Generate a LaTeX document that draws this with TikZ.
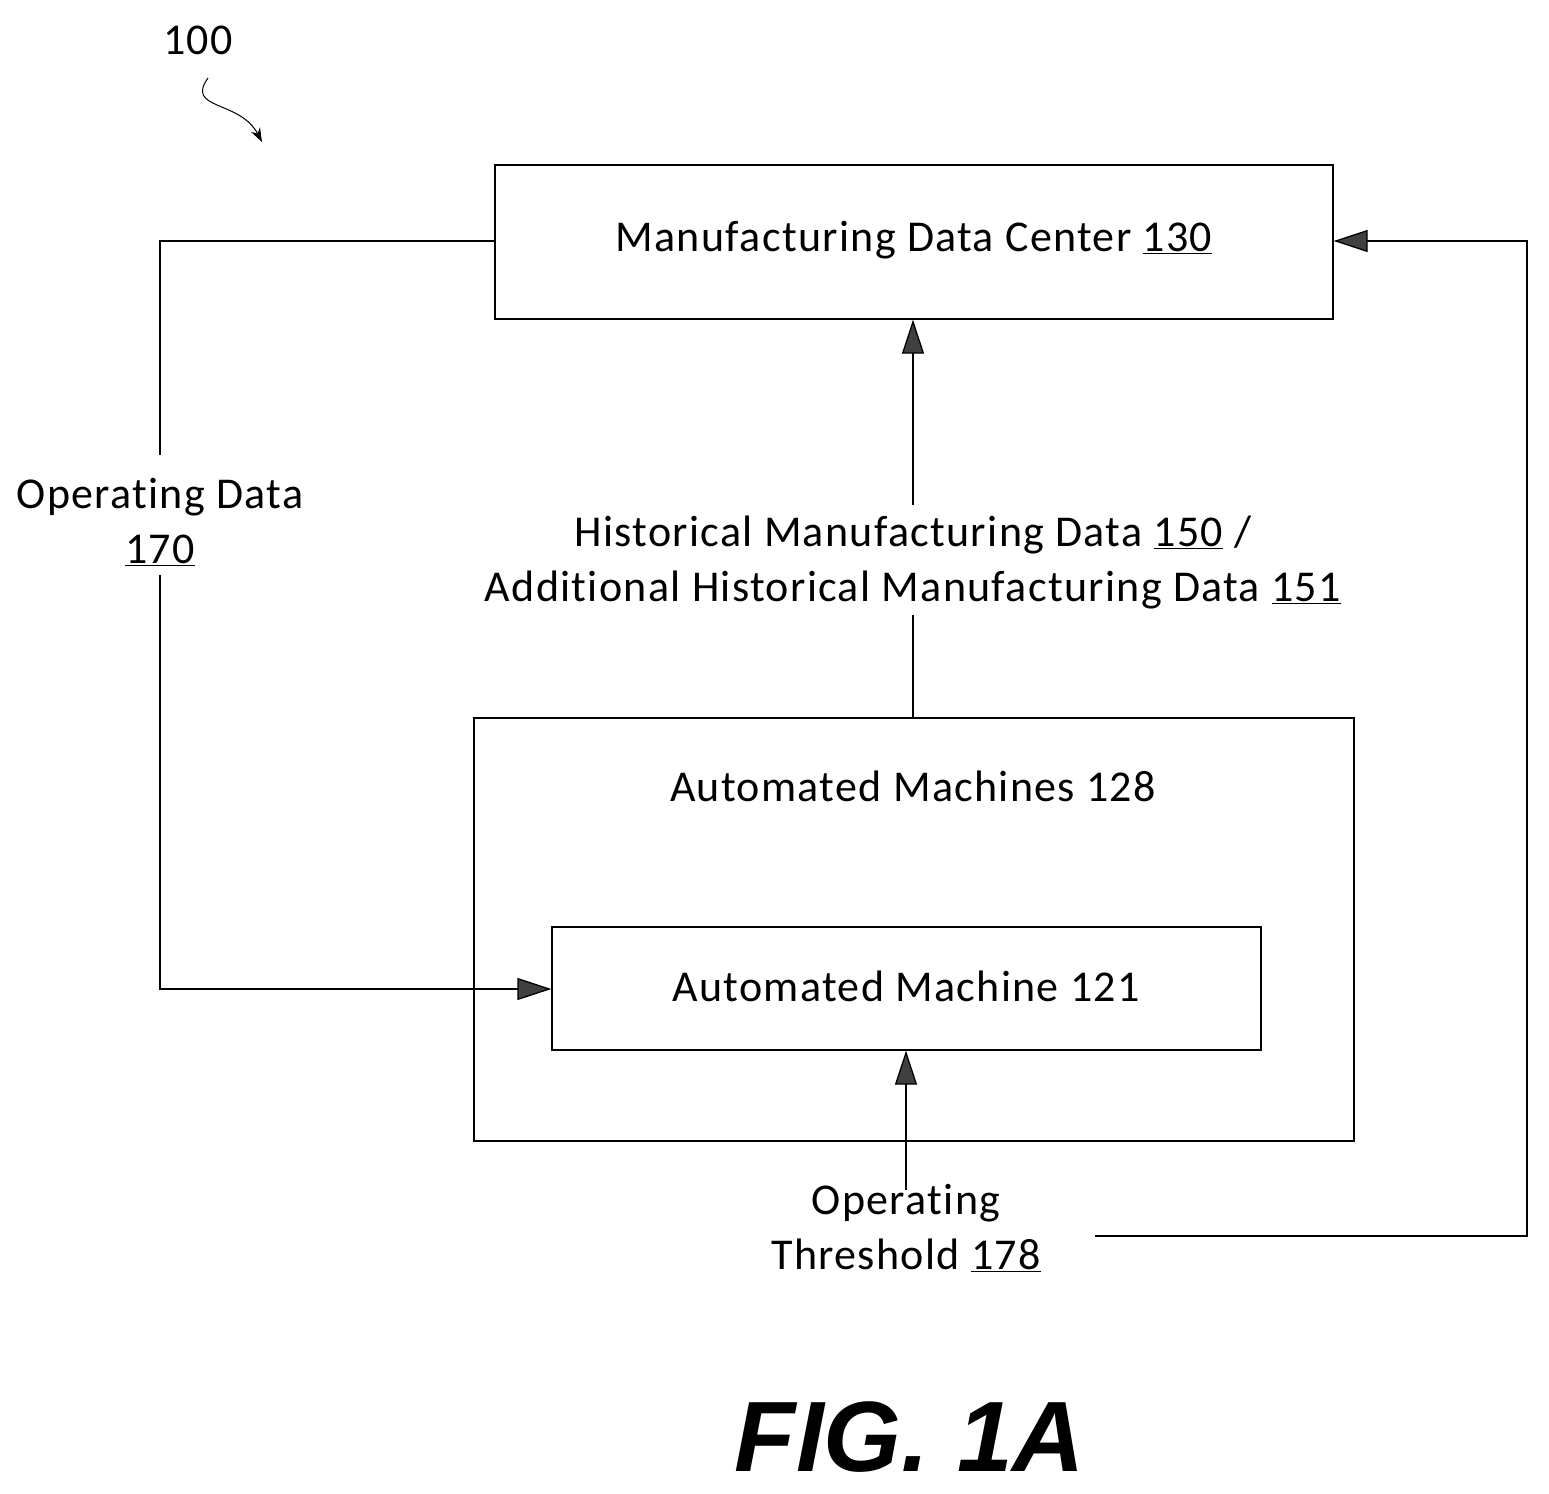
\documentclass[tikz,border=0pt]{standalone}
\usepackage{fontspec}
\setmainfont{Carlito}[Ligatures=NoCommon,LetterSpace=3]
\newfontfamily\figfont{Liberation Sans}
\usetikzlibrary{arrows.meta}
\begin{document}
\begin{tikzpicture}[x=1pt,y=-1pt,
  box/.style={draw,line width=1.3pt,inner sep=0pt},
  lbl/.style={font=\fontsize{44}{55}\selectfont,align=center},
  arr/.style={line width=1.3pt,-{Triangle[length=34pt,width=22pt,fill=black!75]}},
  ln/.style={line width=1.3pt}]
\useasboundingbox (0,0) rectangle (1549,1493);
\node[box,minimum width=838pt,minimum height=154pt] (mdc) at (914,242) {};
\node[lbl] (mdct) at (914,240) {Manufacturing Data Center \underline{130}};
\node[box,minimum width=880pt,minimum height=423pt] (am) at (914,929.5) {};
\node[lbl] (amt) at (913,786) {Automated Machines 128};
\node[box,minimum width=709pt,minimum height=123pt] (m121) at (906.5,988.5) {};
\node[lbl] (m121t) at (906,986) {Automated Machine 121};
\node[lbl] (hist) at (913,562) {Historical Manufacturing Data \underline{150} /\\Additional Historical Manufacturing Data \underline{151}};
\node[lbl] (od) at (160,522) {Operating Data\\\underline{170}};
\node[lbl] (ot) at (906,1228) {Operating\\Threshold \underline{178}};
\node[font=\fontsize{44}{50}\selectfont] (n100) at (198,40) {100};
\node[font=\figfont\bfseries\itshape\fontsize{100}{110}\selectfont] (fig) at (910,1437) {FIG. 1A};

\coordinate (a1) at (913,615);
\coordinate (a2) at (913,505);
\draw[ln] (am.north -| a1) -- (a1);
\draw[arr] (a2) -- (a2 |- mdc.south);

\coordinate (l1) at (160,241);
\coordinate (l2) at (160,455);
\coordinate (l3) at (160,575);
\coordinate (l4) at (160,989);
\draw[ln] (mdc.west |- l1) -- (l1) -- (l2);
\draw[arr] (l3) -- (l4) -- (m121.west |- l4);

\coordinate (t1) at (906,1190);
\draw[arr] (t1) -- (t1 |- m121.south);

\coordinate (r1) at (1095,1236);
\coordinate (r2) at (1527,1236);
\coordinate (r3) at (1527,241);
\draw[arr] (r1) -- (r2) -- (r3) -- (mdc.east |- r3);

\coordinate (s1) at (208,78);
\coordinate (s2) at (262,142);
\draw[line width=1pt,-{Stealth[length=14pt,width=10pt]}] (s1) .. controls (185,110) and (240,100) .. (s2);
\end{tikzpicture}
\end{document}
